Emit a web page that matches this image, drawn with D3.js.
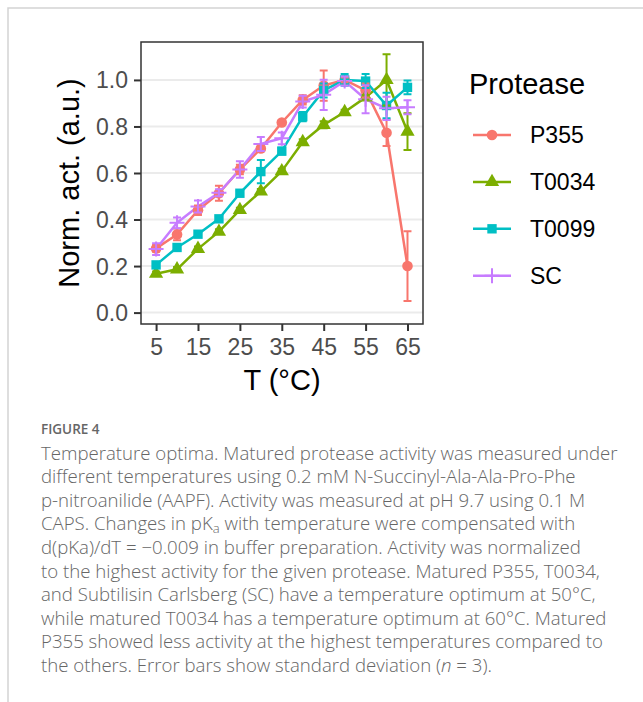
<!DOCTYPE html>
<html>
<head>
<meta charset="utf-8">
<script src="https://cdn.jsdelivr.net/npm/d3@7"></script>
<style>
  body { margin: 0; background: #fff; }
  svg { display: block; }
</style>
</head>
<body>
<div id="chart"></div>
<script>
const temps = [5, 10, 15, 20, 25, 30, 35, 40, 45, 50, 55, 60, 65];
const proteases = ['P355', 'T0034', 'T0099', 'SC'];

const p355 = [0.276, 0.336, 0.440, 0.513, 0.615, 0.705, 0.817, 0.914, 0.976, 1.0, 0.955, 0.773, 0.200];
const p355Sd = [0.015, 0.025, 0.02, 0.032, 0.02, 0.012, 0.01, 0.02, 0.065, 0.01, 0.03, 0.057, 0.15];
const t0034 = [0.167, 0.186, 0.274, 0.348, 0.441, 0.521, 0.608, 0.733, 0.807, 0.862, 0.925, 1.0, 0.778];
const t0034Sd = [0.01, 0.01, 0.01, 0.01, 0.01, 0.01, 0.01, 0.012, 0.015, 0.01, 0.01, 0.11, 0.079];
const t0099 = [0.205, 0.280, 0.337, 0.403, 0.513, 0.606, 0.694, 0.842, 0.955, 1.0, 0.995, 0.89, 0.968];
const t0099Sd = [0.01, 0.01, 0.01, 0.01, 0.01, 0.05, 0.015, 0.02, 0.03, 0.025, 0.03, 0.055, 0.03];
const sc = [0.273, 0.386, 0.456, 0.515, 0.615, 0.725, 0.749, 0.907, 0.936, 0.995, 0.917, 0.878, 0.883];
const scSd = [0.025, 0.023, 0.026, 0.015, 0.035, 0.03, 0.025, 0.025, 0.065, 0.02, 0.06, 0.05, 0.03];

const xTicks = [5, 15, 25, 35, 45, 55, 65];
const yTicks = [0, 0.2, 0.4, 0.6, 0.8, 1.0];

const captionLines = [
  'Temperature optima. Matured protease activity was measured under',
  'different temperatures using 0.2 mM N-Succinyl-Ala-Ala-Pro-Phe',
  'p-nitroanilide (AAPF). Activity was measured at pH 9.7 using 0.1 M',
  ['CAPS. Changes in pK', {sub: 'a'}, ' with temperature were compensated with'],
  'd(pKa)/dT = \u22120.009 in buffer preparation. Activity was normalized',
  'to the highest activity for the given protease. Matured P355, T0034,',
  'and Subtilisin Carlsberg (SC) have a temperature optimum at 50\u00b0C,',
  'while matured T0034 has a temperature optimum at 60\u00b0C. Matured',
  'P355 showed less activity at the highest temperatures compared to',
  ['the others. Error bars show standard deviation (', {it: 'n'}, ' = 3).']
];

const series = [
  { name: 'P355', values: p355, sd: p355Sd },
  { name: 'T0034', values: t0034, sd: t0034Sd },
  { name: 'T0099', values: t0099, sd: t0099Sd },
  { name: 'SC', values: sc, sd: scSd }
].map(s => ({ name: s.name, points: temps.map((t, i) => ({ t: t, v: s.values[i], sd: s.sd[i] })) }));

const W = 643, H = 702;
const panel = { left: 141, right: 423, top: 42, bottom: 324 };

const svg = d3.select('#chart').append('svg')
    .attr('width', W)
    .attr('height', H);

svg.append('rect').attr('width', W).attr('height', H).attr('fill', '#fff');

// page frame
svg.append('path')
    .attr('d', 'M8,' + H + 'V8H' + W)
    .attr('fill', 'none')
    .attr('stroke', '#d3d3d3')
    .attr('stroke-width', 1.5);

const x = d3.scaleLinear()
    .domain([1.4, 68.7])
    .range([panel.left, panel.right]);

const y = d3.scaleLinear()
    .domain([-0.049, 1.163])
    .range([panel.bottom, panel.top]);

const color = d3.scaleOrdinal()
    .domain(proteases)
    .range(['#F8766D', '#7CAE00', '#00BFC4', '#C77CFF']);

// shapes like ggplot 16, 17, 15, 3
const rad = 5.3;
function shapePath(name) {
  if (name === 'P355') return d3.symbol().type(d3.symbolCircle).size(Math.PI * rad * rad)();
  if (name === 'T0034') {
    const r = 1.555 * rad;
    return 'M0,' + (-r) + 'L' + (r * 0.866) + ',' + (r / 2) + 'L' + (-r * 0.866) + ',' + (r / 2) + 'Z';
  }
  if (name === 'T0099') {
    const h = rad * 0.886;
    return 'M' + (-h) + ',' + (-h) + 'H' + h + 'V' + h + 'H' + (-h) + 'Z';
  }
  const a = rad * 1.414;
  return 'M' + (-a) + ',0H' + a + 'M0,' + (-a) + 'V' + a;
}
function drawShape(sel, name) {
  sel.append('path')
      .attr('d', shapePath(name))
      .attr('fill', name === 'SC' ? 'none' : color(name))
      .attr('stroke', color(name))
      .attr('stroke-width', name === 'SC' ? 2 : 0);
}

// grid
svg.append('g').selectAll('line')
    .data(yTicks)
  .enter().append('line')
    .attr('x1', panel.left).attr('x2', panel.right)
    .attr('y1', d => y(d)).attr('y2', d => y(d))
    .attr('stroke', '#ebebeb')
    .attr('stroke-width', 2);

// lines
const line = d3.line()
    .x(d => x(d.t))
    .y(d => y(d.v));

svg.append('g').selectAll('path')
    .data(series)
  .enter().append('path')
    .attr('d', d => line(d.points))
    .attr('fill', 'none')
    .attr('stroke', d => color(d.name))
    .attr('stroke-width', 2.5)
    .attr('stroke-linejoin', 'round');

// points
series.forEach(s => {
  svg.append('g').selectAll('g')
      .data(s.points)
    .enter().append('g')
      .attr('transform', d => 'translate(' + x(d.t) + ',' + y(d.v) + ')')
      .each(function() { drawShape(d3.select(this), s.name); });
});

// error bars
const cap = x(5.95) - x(5);
series.forEach(s => {
  const g = svg.append('g')
      .attr('stroke', color(s.name))
      .attr('stroke-width', 2)
      .attr('fill', 'none');
  g.selectAll('path')
      .data(s.points)
    .enter().append('path')
      .attr('d', d => {
        const cx = x(d.t), y0 = y(d.v - d.sd), y1 = y(d.v + d.sd);
        return 'M' + (cx - cap) + ',' + y1 + 'H' + (cx + cap) +
               'M' + cx + ',' + y1 + 'V' + y0 +
               'M' + (cx - cap) + ',' + y0 + 'H' + (cx + cap);
      });
});

// panel border
svg.append('rect')
    .attr('x', panel.left).attr('y', panel.top)
    .attr('width', panel.right - panel.left)
    .attr('height', panel.bottom - panel.top)
    .attr('fill', 'none')
    .attr('stroke', '#333')
    .attr('stroke-width', 1.5);

// axes
const xAxis = svg.append('g')
    .attr('transform', 'translate(0,' + panel.bottom + ')')
    .call(d3.axisBottom(x).tickValues(xTicks).tickSize(7).tickPadding(8).tickFormat(d3.format('d')));
const yAxis = svg.append('g')
    .attr('transform', 'translate(' + panel.left + ',0)')
    .call(d3.axisLeft(y).tickValues(yTicks).tickSize(7).tickPadding(6).tickFormat(d3.format('.1f')));

[xAxis, yAxis].forEach(a => {
  a.select('.domain').remove();
  a.selectAll('.tick line').attr('stroke', '#333').attr('stroke-width', 2);
  a.selectAll('.tick text')
      .attr('fill', '#4d4d4d')
      .style('font-family', '"Liberation Sans", Arial, sans-serif')
      .style('font-size', '23px');
});
yAxis.selectAll('.tick text').attr('dy', '0.35em');

svg.append('text')
    .attr('x', (panel.left + panel.right) / 2)
    .attr('y', 390)
    .attr('text-anchor', 'middle')
    .style('font-family', '"Liberation Sans", Arial, sans-serif')
    .style('font-size', '29px')
    .text('T (\u00b0C)');

svg.append('text')
    .attr('transform', 'translate(78.5,' + ((panel.top + panel.bottom) / 2) + ') rotate(-90)')
    .attr('text-anchor', 'middle')
    .style('font-family', '"Liberation Sans", Arial, sans-serif')
    .style('font-size', '29px')
    .text('Norm. act. (a.u.)');

// legend
const legend = svg.append('g');
legend.append('text')
    .attr('x', 469)
    .attr('y', 93.5)
    .style('font-family', '"Liberation Sans", Arial, sans-serif')
    .style('font-size', '29px')
    .text('Protease');

const keys = legend.selectAll('g.key')
    .data(proteases)
  .enter().append('g')
    .attr('class', 'key')
    .attr('transform', (d, i) => 'translate(492,' + (135 + i * 46.9) + ')');

keys.append('line')
    .attr('x1', -19).attr('x2', 19)
    .attr('stroke', d => color(d))
    .attr('stroke-width', 2.5);
keys.each(function(d) { drawShape(d3.select(this), d); });
keys.append('text')
    .attr('x', 38)
    .attr('y', 8.3)
    .style('font-family', '"Liberation Sans", Arial, sans-serif')
    .style('font-size', '23px')
    .text(d => d);

// caption
svg.append('text')
    .attr('x', 41)
    .attr('y', 434)
    .attr('fill', '#666')
    .style('font-family', '"Open Sans", sans-serif')
    .style('font-size', '13.5px')
    .style('font-weight', 600)
    .text('FIGURE 4');

const capText = svg.append('text')
    .attr('fill', '#666')
    .style('font-family', '"Open Sans", sans-serif')
    .style('font-weight', 300)
    .style('font-size', '16px');

captionLines.forEach((ln, i) => {
  const t = capText.append('tspan').attr('x', 41).attr('y', 459.5 + i * 23.6);
  const parts = Array.isArray(ln) ? ln : [ln];
  let shifted = false;
  parts.forEach((p, j) => {
    const ts = j === 0 ? t : capText.append('tspan');
    if (typeof p === 'string') {
      ts.text(p);
      if (shifted) ts.attr('dy', -2.5);
      shifted = false;
    } else if (p.sub) {
      ts.text(p.sub).attr('dy', 2.5).style('font-size', '0.7em');
      shifted = true;
    } else if (p.it) {
      ts.text(p.it).style('font-style', 'italic');
    }
  });
});

// fit caption width to the first line's span
const firstLen = capText.select('tspan').node().getComputedTextLength();
capText.style('font-size', (16 * 577 / firstLen).toFixed(2) + 'px');
</script>
</body>
</html>
